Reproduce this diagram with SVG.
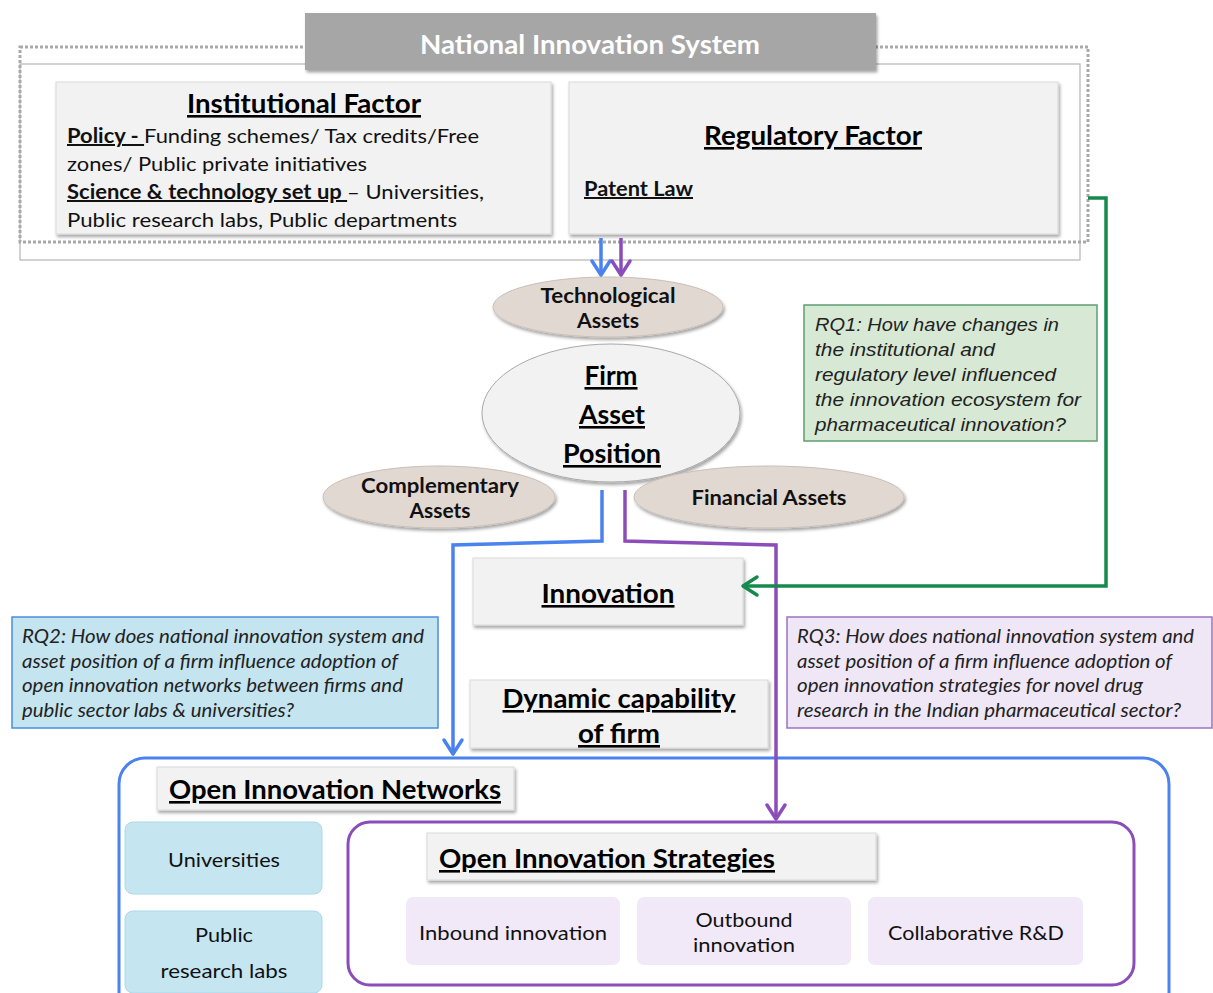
<svg xmlns="http://www.w3.org/2000/svg" width="1213" height="993" viewBox="0 0 1213 993">
  <style>
    .cal { font-family: Lato, "Open Sans", "Liberation Sans", sans-serif; }
    .b { font-weight: bold; }
    .u { text-decoration: underline; }
    .it { font-style: italic; }
    .box { fill: #f2f2f2; stroke: #d9d9d9; stroke-width: 1; }
    .asset { fill: #e2d8d2; stroke: #c9bfb8; stroke-width: 1; }
    .h26 { font-size: 26px; fill: #000; }
    .t20 { font-size: 20px; fill: #111; }
    .rq { font-size: 19px; fill: #222; }
    .conn { fill: none; stroke-width: 3.5; }
  </style>
  <defs>
    <filter id="shadow" x="-5%" y="-10%" width="115%" height="130%">
      <feDropShadow dx="1.5" dy="2.5" stdDeviation="1.5" flood-color="#000" flood-opacity="0.35"/>
    </filter>
    <marker id="arrBlue" markerUnits="userSpaceOnUse" markerWidth="30" markerHeight="30" viewBox="-20 -15 30 30" refX="0" refY="0" orient="auto" overflow="visible">
      <path d="M-14,-9 L0,0 L-14,9" fill="none" stroke="#4a82ee" stroke-width="3.5" stroke-linecap="round" stroke-linejoin="round"/>
    </marker>
    <marker id="arrPurple" markerUnits="userSpaceOnUse" markerWidth="30" markerHeight="30" viewBox="-20 -15 30 30" refX="0" refY="0" orient="auto" overflow="visible">
      <path d="M-14,-9 L0,0 L-14,9" fill="none" stroke="#8a4db9" stroke-width="3.5" stroke-linecap="round" stroke-linejoin="round"/>
    </marker>
    <marker id="arrGreen" markerUnits="userSpaceOnUse" markerWidth="30" markerHeight="30" viewBox="-20 -15 30 30" refX="0" refY="0" orient="auto" overflow="visible">
      <path d="M-14,-9 L0,0 L-14,9" fill="none" stroke="#16894d" stroke-width="3.5" stroke-linecap="round" stroke-linejoin="round"/>
    </marker>
  </defs>

  <rect width="1213" height="993" fill="#ffffff"/>

  <!-- National innovation system frame -->
  <g id="nis-frame">
    <rect x="20" y="64" width="1060" height="196" fill="none" stroke="#b5b5b5" stroke-width="1.2"/>
    <rect x="20" y="47" width="1068" height="195" fill="none" stroke="#a9a9a9" stroke-width="3" stroke-dasharray="3 2"/>
  </g>

  <g id="nis-title">
    <rect x="305" y="13" width="571" height="57" fill="#a6a6a6" filter="url(#shadow)"/>
    <text x="590" y="54" class="cal b h26" style="fill:#fff" text-anchor="middle" textLength="340" lengthAdjust="spacingAndGlyphs">National Innovation System</text>
  </g>

  <g id="institutional-factor">
    <rect x="56" y="82" width="495" height="152" class="box" filter="url(#shadow)"/>
    <text x="304" y="113" class="cal b u h26" text-anchor="middle" textLength="234" lengthAdjust="spacingAndGlyphs">Institutional Factor</text>
    <text x="67" y="143" class="cal t20" textLength="412" lengthAdjust="spacingAndGlyphs"><tspan class="b u">Policy - </tspan>Funding schemes/ Tax credits/Free</text>
    <text x="67" y="171" class="cal t20" textLength="300" lengthAdjust="spacingAndGlyphs">zones/ Public private initiatives</text>
    <text x="67" y="199" class="cal t20" textLength="417" lengthAdjust="spacingAndGlyphs"><tspan class="b u">Science &amp; technology set up </tspan>– Universities,</text>
    <text x="67" y="227" class="cal t20" textLength="390" lengthAdjust="spacingAndGlyphs">Public research labs, Public departments</text>
  </g>

  <g id="regulatory-factor">
    <rect x="569" y="82" width="489" height="152" class="box" filter="url(#shadow)"/>
    <text x="813" y="145" class="cal b u h26" text-anchor="middle" textLength="218" lengthAdjust="spacingAndGlyphs">Regulatory Factor</text>
    <text x="584" y="196" class="cal b u t20" textLength="109" lengthAdjust="spacingAndGlyphs">Patent Law</text>
  </g>

  <g id="technological-assets">
    <ellipse cx="608" cy="307" rx="115" ry="30" class="asset" filter="url(#shadow)"/>
    <text x="608" y="303" class="cal b t20" text-anchor="middle" textLength="135" lengthAdjust="spacingAndGlyphs">Technological</text>
    <text x="608" y="328" class="cal b t20" text-anchor="middle" textLength="62" lengthAdjust="spacingAndGlyphs">Assets</text>
  </g>

  <g id="firm-asset-position">
    <ellipse cx="611" cy="413" rx="129" ry="69" fill="#f2f2f2" stroke="#a9a9a9" stroke-width="1" filter="url(#shadow)"/>
    <text x="611" y="385" class="cal b u h26" text-anchor="middle" textLength="53" lengthAdjust="spacingAndGlyphs">Firm</text>
    <text x="612" y="424" class="cal b u h26" text-anchor="middle" textLength="66" lengthAdjust="spacingAndGlyphs">Asset</text>
    <text x="612" y="463" class="cal b u h26" text-anchor="middle" textLength="98" lengthAdjust="spacingAndGlyphs">Position</text>
  </g>

  <g id="complementary-assets">
    <ellipse cx="439" cy="497" rx="116" ry="31" class="asset" filter="url(#shadow)"/>
    <text x="440" y="493" class="cal b t20" text-anchor="middle" textLength="158" lengthAdjust="spacingAndGlyphs">Complementary</text>
    <text x="440" y="518" class="cal b t20" text-anchor="middle" textLength="61" lengthAdjust="spacingAndGlyphs">Assets</text>
  </g>

  <g id="financial-assets">
    <ellipse cx="769" cy="497" rx="135" ry="31" class="asset" filter="url(#shadow)"/>
    <text x="769" y="505" class="cal b t20" text-anchor="middle" textLength="155" lengthAdjust="spacingAndGlyphs">Financial Assets</text>
  </g>

  <g id="innovation">
    <rect x="473" y="558" width="270" height="67" class="box" filter="url(#shadow)"/>
    <text x="608" y="603" class="cal b u h26" text-anchor="middle" textLength="133" lengthAdjust="spacingAndGlyphs">Innovation</text>
  </g>

  <g id="dynamic-capability">
    <rect x="470" y="680" width="298" height="68" class="box" filter="url(#shadow)"/>
    <text x="619" y="708" class="cal b u h26" text-anchor="middle" textLength="233" lengthAdjust="spacingAndGlyphs">Dynamic capability</text>
    <text x="619" y="743" class="cal b u h26" text-anchor="middle" textLength="82" lengthAdjust="spacingAndGlyphs">of firm</text>
  </g>

  <g id="rq1">
    <rect x="804" y="305" width="293" height="136" fill="#d7e9d5" stroke="#5c9f72" stroke-width="1.5"/>
    <g font-family="'Liberation Sans', Arial, sans-serif" class="it rq">
      <text x="815" y="331" textLength="244" lengthAdjust="spacingAndGlyphs">RQ1: How have changes in</text>
      <text x="815" y="356" textLength="180" lengthAdjust="spacingAndGlyphs">the institutional and</text>
      <text x="815" y="381" textLength="241" lengthAdjust="spacingAndGlyphs">regulatory level influenced</text>
      <text x="815" y="406" textLength="266" lengthAdjust="spacingAndGlyphs">the innovation ecosystem for</text>
      <text x="815" y="431" textLength="251" lengthAdjust="spacingAndGlyphs">pharmaceutical innovation?</text>
    </g>
  </g>

  <g id="rq2">
    <rect x="12" y="617" width="426" height="111" fill="#c4e4f0" stroke="#4a8fe0" stroke-width="1.5"/>
    <g class="cal it rq">
      <text x="22" y="643" textLength="402" lengthAdjust="spacingAndGlyphs">RQ2: How does national innovation system  and</text>
      <text x="22" y="668" textLength="376" lengthAdjust="spacingAndGlyphs">asset position of a firm influence adoption of</text>
      <text x="22" y="692" textLength="381" lengthAdjust="spacingAndGlyphs">open innovation networks between firms and</text>
      <text x="22" y="717" textLength="272" lengthAdjust="spacingAndGlyphs">public sector labs &amp; universities?</text>
    </g>
  </g>

  <g id="rq3">
    <rect x="787" y="617" width="425" height="111" fill="#efe6f6" stroke="#9d72c2" stroke-width="1.5"/>
    <g class="cal it rq">
      <text x="797" y="643" textLength="397" lengthAdjust="spacingAndGlyphs">RQ3: How does national innovation system and</text>
      <text x="797" y="668" textLength="375" lengthAdjust="spacingAndGlyphs">asset position of a firm influence adoption of</text>
      <text x="797" y="692" textLength="346" lengthAdjust="spacingAndGlyphs">open innovation strategies for novel drug</text>
      <text x="797" y="717" textLength="384" lengthAdjust="spacingAndGlyphs">research in the Indian pharmaceutical sector?</text>
    </g>
  </g>

  <g id="open-innovation-networks">
    <rect x="119" y="758" width="1050" height="260" rx="26" fill="none" stroke="#4a82ee" stroke-width="3"/>
    <rect x="157" y="767" width="357" height="43" class="box" filter="url(#shadow)"/>
    <text x="169" y="799" class="cal b u h26" textLength="332" lengthAdjust="spacingAndGlyphs">Open Innovation Networks</text>
  </g>

  <g id="universities">
    <rect x="125" y="822" width="197" height="72" rx="8" fill="#c5e5f1" stroke="#a9d9ec" stroke-width="1"/>
    <text x="224" y="867" class="cal t20" text-anchor="middle" textLength="112" lengthAdjust="spacingAndGlyphs">Universities</text>
  </g>

  <g id="public-research-labs">
    <rect x="125" y="911" width="197" height="82" rx="8" fill="#c5e5f1" stroke="#a9d9ec" stroke-width="1"/>
    <text x="224" y="942" class="cal t20" text-anchor="middle" textLength="58" lengthAdjust="spacingAndGlyphs">Public</text>
    <text x="224" y="978" class="cal t20" text-anchor="middle" textLength="127" lengthAdjust="spacingAndGlyphs">research labs</text>
  </g>

  <g id="open-innovation-strategies">
    <rect x="348" y="822" width="786" height="163" rx="22" fill="none" stroke="#8a4db9" stroke-width="3"/>
    <rect x="427" y="833" width="449" height="47" class="box" filter="url(#shadow)"/>
    <text x="439" y="868" class="cal b u h26" textLength="336" lengthAdjust="spacingAndGlyphs">Open Innovation Strategies</text>
  </g>

  <g id="inbound-innovation">
    <rect x="406" y="897" width="214" height="68" rx="7" fill="#f1e8f8"/>
    <text x="513" y="940" class="cal t20" text-anchor="middle" textLength="188" lengthAdjust="spacingAndGlyphs">Inbound innovation</text>
  </g>

  <g id="outbound-innovation">
    <rect x="637" y="897" width="214" height="68" rx="7" fill="#f1e8f8"/>
    <text x="744" y="927" class="cal t20" text-anchor="middle" textLength="97" lengthAdjust="spacingAndGlyphs">Outbound</text>
    <text x="744" y="952" class="cal t20" text-anchor="middle" textLength="102" lengthAdjust="spacingAndGlyphs">innovation</text>
  </g>

  <g id="collaborative-rd">
    <rect x="868" y="897" width="215" height="68" rx="7" fill="#f1e8f8"/>
    <text x="976" y="940" class="cal t20" text-anchor="middle" textLength="176" lengthAdjust="spacingAndGlyphs">Collaborative R&amp;D</text>
  </g>

  <!-- connectors -->
  <g id="connectors">
    <path d="M601,238 V275" class="conn" stroke="#4a82ee" marker-end="url(#arrBlue)"/>
    <path d="M621,238 V275" class="conn" stroke="#8a4db9" marker-end="url(#arrPurple)"/>
    <path d="M602,490 V541 L453,545 V754" class="conn" stroke="#4a82ee" marker-end="url(#arrBlue)"/>
    <path d="M625,490 V541 L776,545 V819" class="conn" stroke="#8a4db9" marker-end="url(#arrPurple)"/>
    <path d="M1088,198 H1106 V586 H743" class="conn" stroke="#16894d" marker-end="url(#arrGreen)"/>
  </g>
</svg>
